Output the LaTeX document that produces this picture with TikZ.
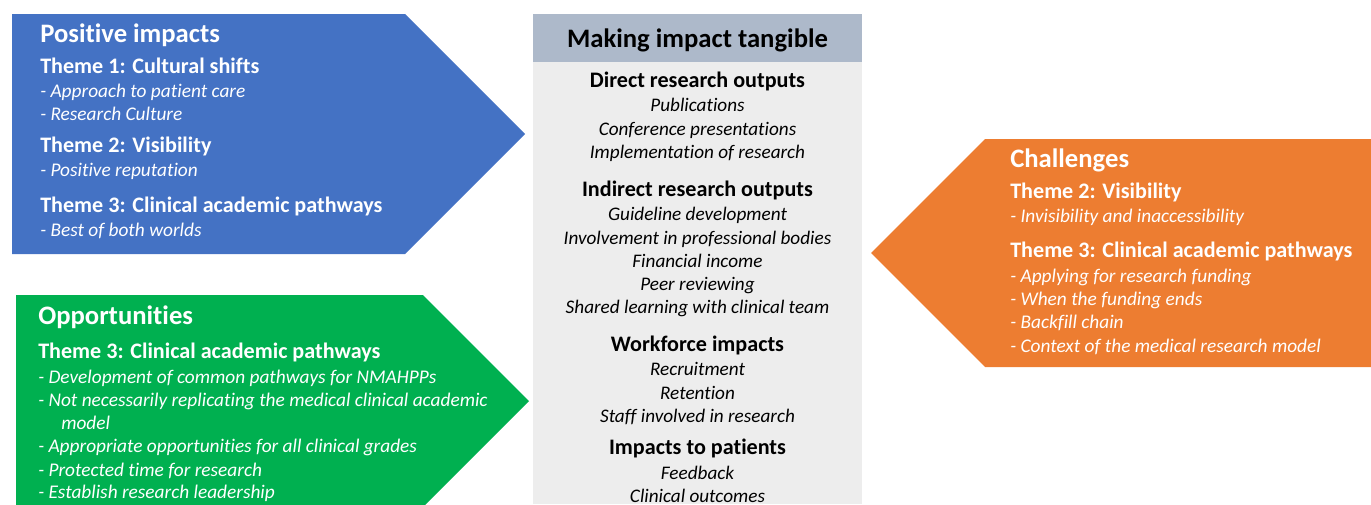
\documentclass[tikz,border=0pt]{standalone}
\usepackage{fontspec}
\setmainfont{Carlito}[Ligatures=NoCommon]
\definecolor{cblue}{HTML}{4472C4}
\definecolor{cgreen}{HTML}{00B050}
\definecolor{corange}{HTML}{ED7D31}
\definecolor{chead}{HTML}{ADB9CA}
\definecolor{cbody}{HTML}{EDEDED}
\begin{document}
\begin{tikzpicture}[x=0.75pt,y=-0.75pt,
  ttl/.style={anchor=base west, font=\fontsize{20}{22}\selectfont\bfseries, text=white, inner sep=0},
  thm/.style={anchor=base west, font=\fontsize{16.6}{19}\selectfont\bfseries, text=white, inner sep=0},
  itm/.style={anchor=base west, font=\fontsize{14.5}{17}\selectfont\itshape, text=white, inner sep=0},
  mtl/.style={anchor=base, font=\fontsize{20}{22}\selectfont\bfseries, inner sep=0},
  chd/.style={anchor=base, font=\fontsize{16.6}{19}\selectfont\bfseries, inner sep=0},
  cit/.style={anchor=base, font=\fontsize{14.4}{17}\selectfont\itshape, inner sep=0}]
\useasboundingbox (0,0) rectangle (1371,504);
% shapes
\fill[cblue] (12,14) -- (405,14) -- (525,134) -- (405,254) -- (12,254) -- cycle;
\fill[cgreen] (16,295) -- (423,295) -- (529,401) -- (423,507) -- (16,507) -- cycle;
\fill[cbody] (533,62) rectangle (862,504);
\fill[chead] (533,14) rectangle (862,62);
\fill[corange] (871,253) -- (985,139) -- (1371,139) -- (1371,367) -- (985,367) -- cycle;
% blue
\node[ttl] (b0) at (40,42) {Positive impacts};
\node[thm] (b1) at (40,73.5) {Theme 1: Cultural shifts};
\node[itm] (b2) at (40,97) {- Approach to patient care};
\node[itm] (b3) at (40,120) {- Research Culture};
\node[thm] (b4) at (40,152.5) {Theme 2: Visibility};
\node[itm] (b5) at (40,176) {- Positive reputation};
\node[thm] (b6) at (40,212.5) {Theme 3: Clinical academic pathways};
\node[itm] (b7) at (40,236) {- Best of both worlds};
% green
\node[ttl] (g0) at (38,324) {Opportunities};
\node[thm] (g1) at (38,358.5) {Theme 3: Clinical academic pathways};
\node[itm] (g2) at (38,383) {- Development of common pathways for NMAHPPs};
\node[itm] (g3) at (38,406) {- Not necessarily replicating the medical clinical academic};
\node[itm] (g4) at (61,429) {model};
\node[itm] (g5) at (38,452) {- Appropriate opportunities for all clinical grades};
\node[itm] (g6) at (38,476) {- Protected time for research};
\node[itm] (g7) at (38,498) {- Establish research leadership};
% center
\node[mtl] (m0) at (697.5,47) {Making impact tangible};
\node[chd] (m1) at (697.5,87.5) {Direct research outputs};
\node[cit] (m2) at (697.5,111) {Publications};
\node[cit] (m3) at (697.5,135) {Conference presentations};
\node[cit] (m4) at (697.5,158) {Implementation of research};
\node[chd] (m5) at (697.5,196.5) {Indirect research outputs};
\node[cit] (m6) at (697.5,220) {Guideline development};
\node[cit] (m7) at (697.5,244) {Involvement in professional bodies};
\node[cit] (m8) at (697.5,267) {Financial income};
\node[cit] (m9) at (697.5,290) {Peer reviewing};
\node[cit] (m10) at (697.5,313) {Shared learning with clinical team};
\node[chd] (m11) at (697.5,351.5) {Workforce impacts};
\node[cit] (m12) at (697.5,375) {Recruitment};
\node[cit] (m13) at (697.5,399) {Retention};
\node[cit] (m14) at (697.5,422) {Staff involved in research};
\node[chd] (m15) at (697.5,454.5) {Impacts to patients};
\node[cit] (m16) at (697.5,479) {Feedback};
\node[cit] (m17) at (697.5,502) {Clinical outcomes};
% orange
\node[ttl] (o0) at (1010,167) {Challenges};
\node[thm] (o1) at (1010,198.5) {Theme 2: Visibility};
\node[itm] (o2) at (1010,222) {- Invisibility and inaccessibility};
\node[thm] (o3) at (1010,257.5) {Theme 3: Clinical academic pathways};
\node[itm] (o4) at (1010,282) {- Applying for research funding};
\node[itm] (o5) at (1010,305) {- When the funding ends};
\node[itm] (o6) at (1010,328) {- Backfill chain};
\node[itm] (o7) at (1010,352) {- Context of the medical research model};
\end{tikzpicture}
\end{document}
